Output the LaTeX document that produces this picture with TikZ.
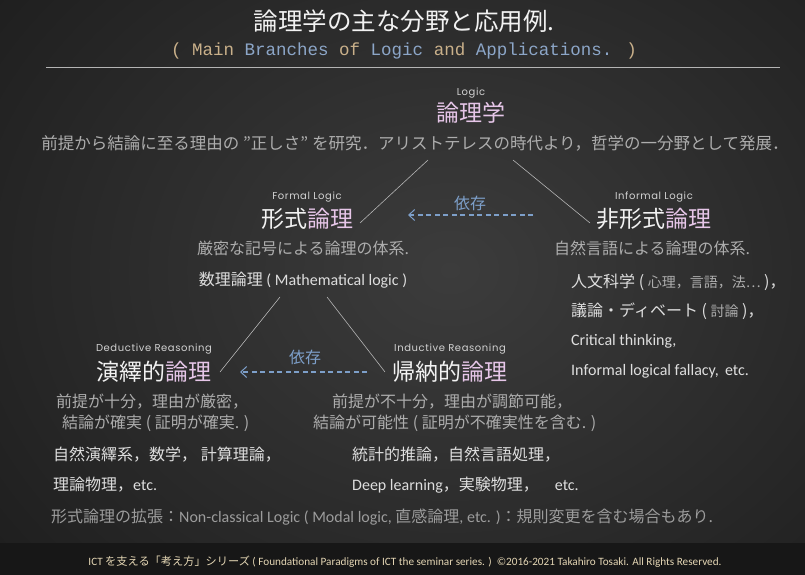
\documentclass[tikz,border=0pt]{standalone}
\usepackage{fontspec}
\setmainfont{Noto Sans CJK JP}
\newfontfamily\lf{Carlito}
\newfontfamily\lblf[LetterSpace=6]{Poppins}
\newfontfamily\monof{Liberation Mono}
\usetikzlibrary{arrows.meta}
\definecolor{bgdark}{HTML}{151515}
\definecolor{bgmid}{HTML}{3C3C3C}
\definecolor{ftband}{HTML}{171717}
\definecolor{wht}{HTML}{F2F2F2}
\definecolor{pnk}{HTML}{E6C6E8}
\definecolor{dscgray}{HTML}{ADADAD}
\definecolor{itmgray}{HTML}{DEDEDE}
\definecolor{extgray}{HTML}{9C9C9C}
\definecolor{lblgray}{HTML}{D2D2D2}
\definecolor{depblue}{HTML}{7D9FC9}
\definecolor{subtan}{HTML}{C9B08A}
\definecolor{substeel}{HTML}{8CA6C8}
\definecolor{ftcream}{HTML}{E4D6B4}
\definecolor{lngray}{HTML}{B4B4B4}

\begin{document}
\begin{tikzpicture}[x=1pt,y=-1pt,node distance=22pt]
\tikzstyle{ttl}=[inner sep=0pt,text=wht,font=\fontsize{24.5}{28}\selectfont]
\tikzstyle{sub}=[inner sep=0pt,font=\monof\fontsize{17.5}{20}\selectfont]
\tikzstyle{hd}=[inner sep=0pt,text=wht,font=\fontsize{23}{26}\selectfont]
\tikzstyle{lbl}=[inner sep=0pt,text=lblgray,font=\lblf\fontsize{10}{12}\selectfont]
\tikzstyle{dsc}=[inner sep=0pt,text=dscgray,font=\fontsize{16}{19}\selectfont]
\tikzstyle{itm}=[inner sep=0pt,text=itmgray,font=\fontsize{16}{19}\selectfont]
\tikzstyle{ex}=[inner sep=0pt,text=extgray,font=\fontsize{16}{19}\selectfont]
\tikzstyle{dp}=[inner sep=0pt,text=depblue,font=\fontsize{16}{19}\selectfont]
\tikzstyle{ft}=[inner sep=0pt,text=ftcream,font=\fontsize{11.2}{13}\selectfont]
\tikzstyle{conn}=[draw=lngray,line width=0.6pt]
\tikzstyle{deparrow}=[draw=depblue,line width=1.1pt,dash pattern=on 5pt off 3.5pt,-{Straight Barb[length=6pt,width=11pt,line width=1pt]}]
% background
\useasboundingbox (0,0) rectangle (805,575);
\fill[bgdark] (0,0) rectangle (805,575);
\shade[inner color=bgmid,outer color=bgdark] (450,270) ellipse (760 and 620);
\fill[ftband] (0,543) rectangle (805,575);
% heading
\node (title) [ttl] at (404,21) {論理学の主な分野と応用例.};
\node (subttl) [sub] at (404,51) {\color{subtan}( Main \color{substeel}Branches \color{subtan}of \color{substeel}Logic \color{subtan}and \color{substeel}Applications. \color{subtan})};
\draw[lngray,line width=0.8pt] (46,67) -- (780,67);
% logic
\node (logic) [hd,text=pnk] at (471,113) {論理学};
\node (logiclbl) [lbl,above of=logic,node distance=20pt] {Logic};
\node (logicdsc) [dsc,font=\fontsize{16.5}{19}\selectfont] at (415,143) {前提から結論に至る理由の "正しさ" を研究．アリストテレスの時代より，哲学の一分野として発展．};
% formal / informal
\node (formal) [hd] at (307,219) {形式\textcolor{pnk}{論理}};
\node (formallbl) [lbl,above of=formal] {Formal Logic};
\node (informal) [hd] at (654,219) {非形式\textcolor{pnk}{論理}};
\node (informallbl) [lbl,above of=informal] {Informal Logic};
\node (dep1) [dp] at (470,203) {依存};
\node (formaldsc) [dsc] at (303,248) {厳密な記号による論理の体系.};
\node (formalmath) [itm] at (303,280) {数理論理 {\lf ( Mathematical logic )}};
\node (informaldsc) [dsc] at (652,248) {自然言語による論理の体系.};
\node (inf1) [itm,anchor=west] at (571,282) {人文科学 ( {\fontsize{14}{16}\selectfont\color{dscgray}心理，言語，法⋯} )，};
\node (inf2) [itm,anchor=west] at (571,311) {議論・ディベート ( {\fontsize{14}{16}\selectfont\color{dscgray}討論} )，};
\node (inf3) [itm,anchor=west] at (571,341) {\lf Critical thinking,};
\node (inf4) [itm,anchor=west] at (571,371) {\lf Informal logical fallacy,\, etc.};
% deductive / inductive
\node (ded) [hd] at (154,372) {演繹的\textcolor{pnk}{論理}};
\node (dedlbl) [lbl,above of=ded,node distance=23pt] {Deductive Reasoning};
\node (ind) [hd] at (450,372) {帰納的\textcolor{pnk}{論理}};
\node (indlbl) [lbl,above of=ind,node distance=23pt] {Inductive Reasoning};
\node (dep2) [dp] at (305,357) {依存};
\node (ded1) [dsc,anchor=west] at (56,402) {前提が十分，理由が厳密，};
\node (ded2) [dsc,anchor=west] at (62,423) {結論が確実 ( 証明が確実. )};
\node (ind1) [dsc,anchor=west] at (332,402) {前提が不十分，理由が調節可能，};
\node (ind2) [dsc,anchor=west] at (313,423) {結論が可能性 ( 証明が不確実性を含む. )};
\node (ded3) [itm,anchor=west] at (53,455) {自然演繹系，数学， 計算理論，};
\node (ded4) [itm,anchor=west] at (53,485) {理論物理，{\lf etc.}};
\node (ind3) [itm,anchor=west] at (352,455) {統計的推論，自然言語処理，};
\node (ind4) [itm,anchor=west] at (352,485) {{\lf Deep learning}，実験物理，\quad{\lf etc.}};
\node (ext) [ex,anchor=west] at (51,517) {形式論理の拡張：{\lf Non-classical Logic ( Modal logic,} 直感論理{\lf , etc. )}：規則変更を含む場合もあり.};
% footer
\node (foot) [ft] at (405,562) {{\lf ICT} を支える「考え方」シリーズ {\lf ( Foundational Paradigms of ICT the seminar series. )\ \ ©2016-2021 Takahiro Tosaki. All Rights Reserved.}};
% connectors
\coordinate (lgL) at (428,160);
\coordinate (lgR) at (513,160);
\coordinate (fmT) at (360,223);
\coordinate (ifT) at (590,223);
\coordinate (mtL) at (280,297);
\coordinate (mtR) at (327,297);
\coordinate (ddT) at (220,372);
\coordinate (inT) at (385,372);
\draw[conn] (lgL) -- (fmT);
\draw[conn] (lgR) -- (ifT);
\draw[conn] (mtL) -- (ddT);
\draw[conn] (mtR) -- (inT);
\coordinate (dep1s) at (533,215);
\coordinate (dep1e) at (408,215);
\coordinate (dep2s) at (367,372);
\coordinate (dep2e) at (240,372);
\draw[deparrow] (dep1s) -- (dep1e);
\draw[deparrow] (dep2s) -- (dep2e);
\end{tikzpicture}
\end{document}
